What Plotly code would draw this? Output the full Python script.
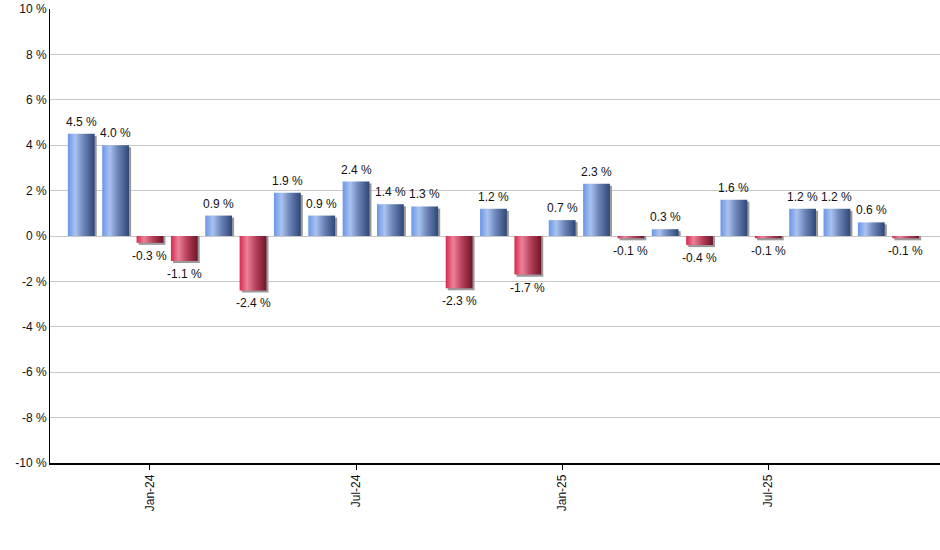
import plotly.graph_objects as go

# monthly returns, Nov-23 .. Nov-25
months = ["Nov-23", "Dec-23",
          "Jan-24", "Feb-24", "Mar-24", "Apr-24", "May-24", "Jun-24",
          "Jul-24", "Aug-24", "Sep-24", "Oct-24", "Nov-24", "Dec-24",
          "Jan-25", "Feb-25", "Mar-25", "Apr-25", "May-25", "Jun-25",
          "Jul-25", "Aug-25", "Sep-25", "Oct-25", "Nov-25"]
returns = [4.5, 4.0, -0.3, -1.1, 0.9, -2.4, 1.9, 0.9, 2.4, 1.4, 1.3, -2.3,
           1.2, -1.7, 0.7, 2.3, -0.1, 0.3, -0.4, 1.6, -0.1, 1.2, 1.2, 0.6, -0.1]
tick_labels = [m for m in months if m.startswith("Jan") or m.startswith("Jul")]
y_ticks = [-10, -8, -6, -4, -2, 0, 2, 4, 6, 8, 10]

idx = list(range(len(months)))
tick_idx = [months.index(t) for t in tick_labels]

blue_scale = [[0, "#6a96e6"], [0.28, "#a9c2ef"], [0.6, "#6a82b4"], [1, "#2f4678"]]
red_scale = [[0, "#d62a4e"], [0.28, "#ec8198"], [0.6, "#b8405c"], [1, "#701428"]]
half = 0.39

fig = go.Figure()

# drop shadow
fig.add_trace(go.Bar(
    x=idx, y=[v - 0.09 for v in returns], width=0.78, offset=-half + 0.06,
    marker=dict(color="#999999", line=dict(width=0)),
    hoverinfo="skip", showlegend=False))

# gradient bars
for i, v in enumerate(returns):
    x0, x1 = i - half, i + half
    fig.add_trace(go.Scatter(
        x=[x0, x0, x1, x1, x0], y=[0, v, v, 0, 0],
        mode="none", fill="toself",
        fillgradient=dict(type="horizontal", start=x0, stop=x1,
                          colorscale=blue_scale if v >= 0 else red_scale),
        hoverinfo="skip", showlegend=False))

# value labels
for i, v in enumerate(returns):
    fig.add_annotation(
        x=i, y=v, text=f"{v:.1f} %", showarrow=False,
        yanchor="bottom" if v >= 0 else "top",
        yshift=3 if v >= 0 else -4,
        font=dict(size=12, color="#111111"))

fig.update_layout(
    width=940, height=550,
    margin=dict(l=50, r=0, t=9, b=87),
    plot_bgcolor="white", paper_bgcolor="white",
    font=dict(family="Liberation Sans, Arial", size=12, color="#111111"),
    barmode="overlay",
    showlegend=False,
)
fig.update_xaxes(
    range=[-0.91, 25.0], tickvals=tick_idx, ticktext=tick_labels,
    tickangle=-90, ticks="outside", ticklen=5, tickcolor="black",
    showline=True, linecolor="black", linewidth=1.5,
    showgrid=False, zeroline=False, automargin=False)
fig.update_yaxes(
    range=[-10, 10], tickvals=y_ticks, ticktext=[f"{t} %" for t in y_ticks],
    showgrid=True, gridcolor="#c8c8c8", gridwidth=1,
    zeroline=True, zerolinecolor="#c8c8c8", zerolinewidth=1,
    showline=True, linecolor="black", linewidth=1, ticks="",
    automargin=False)

# drop the browser's default 8px page margin
fig.write_html("out.html", config={"displayModeBar": False},
               post_script="document.body.style.margin = '0';")
